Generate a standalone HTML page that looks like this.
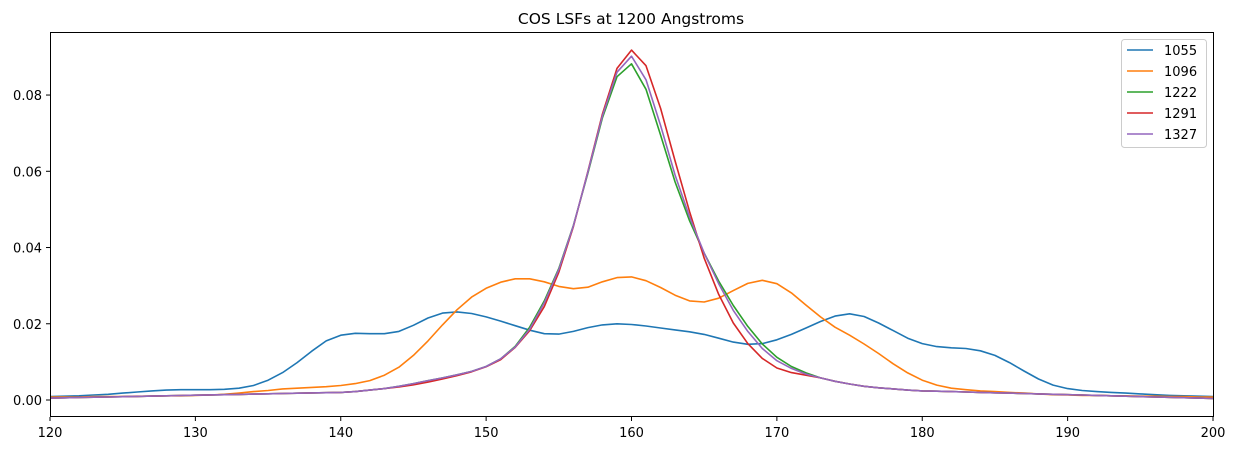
<!DOCTYPE html>
<html><head><meta charset="utf-8"><style>
body{margin:0;background:#fff;font-family:"DejaVu Sans","Liberation Sans",sans-serif}
svg text{font-family:"DejaVu Sans","Liberation Sans",sans-serif;font-size:13px;fill:#000}
</style></head><body>
<svg id="s" width="1236" height="451" xmlns="http://www.w3.org/2000/svg">
<text x="631" y="24" text-anchor="middle" style="font-size:15.5px">COS LSFs at 1200 Angstroms</text>
<g id="plot"></g>
<rect x="50.5" y="32.5" width="1163" height="384" fill="none" stroke="#000" stroke-width="1"/>
<g id="ticks"></g>
<g>
<rect x="1121.5" y="39.5" width="85" height="108" rx="3" fill="#fff" fill-opacity="0.8" stroke="#ccc"/>
<line x1="1127" x2="1153" y1="50" y2="50" stroke="#1f77b4" stroke-width="1.6"/><text x="1164" y="55">1055</text>
<line x1="1127" x2="1153" y1="71" y2="71" stroke="#ff7f0e" stroke-width="1.6"/><text x="1164" y="76">1096</text>
<line x1="1127" x2="1153" y1="92" y2="92" stroke="#2ca02c" stroke-width="1.6"/><text x="1164" y="97">1222</text>
<line x1="1127" x2="1153" y1="113" y2="113" stroke="#d62728" stroke-width="1.6"/><text x="1164" y="118">1291</text>
<line x1="1127" x2="1153" y1="134" y2="134" stroke="#9467bd" stroke-width="1.6"/><text x="1164" y="139">1327</text>
</g>
</svg>
<script>
const X=v=>50+(v-120)*1163/80, Y=v=>400-v*3812;
const NS="http://www.w3.org/2000/svg";
let t=document.getElementById('ticks');
for(let v=120;v<=200;v+=10){let x=X(v);t.innerHTML+=`<line x1="${x}" x2="${x}" y1="417" y2="421" stroke="#000"/><text x="${x}" y="437" text-anchor="middle">${v}</text>`;}
[0,0.02,0.04,0.06,0.08].forEach(v=>{let y=Y(v);t.innerHTML+=`<line x1="46" x2="50" y1="${y}" y2="${y}" stroke="#000"/><text x="42" y="${y+5}" text-anchor="end">${v.toFixed(2)}</text>`;});
const blue=[.0009,.001,.0011,.0013,.0015,.0018,.0021,.0024,.0026,.0027,.0027,.0027,.0028,.0031,.0038,.0052,.0072,.0098,.0128,.0155,.017,.0175,.0174,.0174,.018,.0196,.0215,.0228,.0231,.0227,.0218,.0207,.0195,.0183,.0174,.0173,.018,.019,.0197,.02,.0198,.0194,.0189,.0184,.0179,.0172,.0162,.0152,.0146,.0148,.0158,.0172,.0189,.0206,.022,.0226,.0219,.0202,.0182,.0162,.0148,.014,.0137,.0135,.0129,.0117,.0098,.0076,.0055,.0039,.003,.0025,.0022,.002,.0018,.0016,.0014,.0012,.0011,.001,.0009];
const orange=[.0008,.0008,.0008,.0009,.0009,.0009,.001,.001,.0011,.0011,.0012,.0013,.0015,.0018,.0022,.0025,.0029,.0031,.0033,.0035,.0038,.0043,.0051,.0065,.0086,.0117,.0155,.0197,.0237,.027,.0293,.0309,.0318,.0318,.031,.0298,.0292,.0296,.031,.0321,.0323,.0313,.0295,.0275,.026,.0257,.0267,.0287,.0306,.0314,.0305,.0281,.0249,.0218,.0191,.017,.0147,.0122,.0095,.0071,.0052,.0039,.0031,.0027,.0024,.0022,.002,.0018,.0016,.0014,.0013,.0012,.0012,.0011,.0011,.001,.001,.0009,.0009,.0008,.0008];
function base(){let a=[];for(let i=0;i<=80;i++){let x=120+i;let v;if(x<=140)v=.0005+(x-120)*.000075;else v=0;a.push(v);}return a;}
const mid={140:.002,141:.0022,142:.0026,143:.003,144:.0036,145:.0043,146:.0051,147:.0058,148:.0066,149:.0075,150:.0088,151:.0108,152:.0141,153:.0191,154:.026,155:.0345,156:.0458,157:.0595,158:.074,159:.0848,160:.0882,161:.0815,162:.0695,163:.0572,164:.047,165:.0385,166:.0312,167:.0248,168:.0193,169:.0147,170:.0112,171:.0088,172:.0071,173:.0058,174:.0049,175:.0042,176:.0036,177:.0032,178:.0029,179:.0026,180:.0024};
function mk(over){let a=base();for(let i=0;i<=80;i++){let x=120+i;if(x>180)a[i]=.0024-(x-180)*.0001;if(mid[x]!==undefined)a[i]=mid[x];if(over[x]!==undefined)a[i]=over[x];}return a;}
const green=mk({});
const red=mk({144:.0034,145:.004,146:.0047,147:.0055,148:.0064,149:.0074,150:.0087,151:.0106,152:.0138,153:.0182,154:.0245,155:.0335,156:.0455,157:.06,158:.075,159:.087,160:.0918,161:.0877,162:.0765,163:.0627,164:.0494,165:.0372,166:.0277,167:.0202,168:.0148,169:.0109,170:.0084,171:.0072,172:.0065,173:.0058});
const purple=mk({152:.0139,153:.0186,154:.0255,155:.0342,156:.0457,157:.0598,158:.0745,159:.086,160:.0902,161:.084,162:.072,163:.059,164:.048,165:.0385,166:.0305,167:.0235,168:.018,169:.0135,170:.0103,171:.0083,172:.0068});
const p=document.getElementById('plot');
[[blue,'#1f77b4'],[orange,'#ff7f0e'],[green,'#2ca02c'],[red,'#d62728'],[purple,'#9467bd']].forEach(([d,c])=>{
let pts=d.map((v,i)=>X(120+i).toFixed(1)+','+Y(v).toFixed(1)).join(' ');
p.innerHTML+=`<polyline points="${pts}" fill="none" stroke="${c}" stroke-width="1.6" stroke-linejoin="round"/>`;});
</script>
</body></html>
